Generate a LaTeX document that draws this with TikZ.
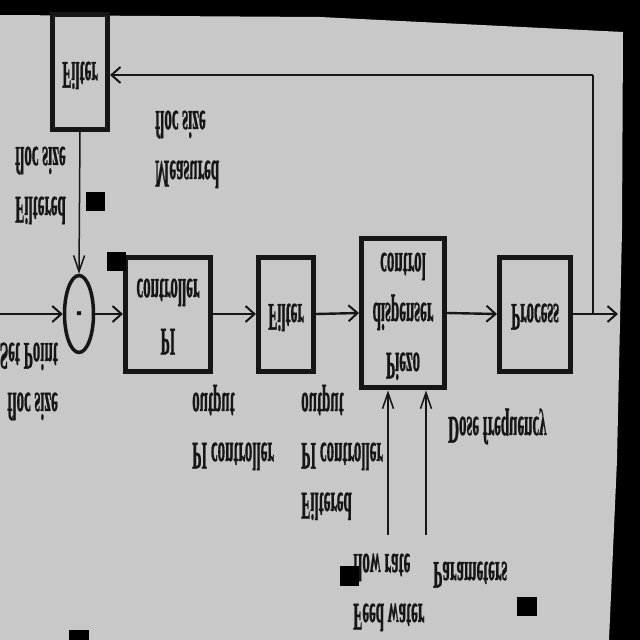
\documentclass[tikz,border=0pt]{standalone}
\usepackage{fontspec}
\setmainfont{Liberation Serif}[BoldFeatures={FakeBold=1.2}]
\usepackage{graphicx}
\usetikzlibrary{arrows.meta,shapes.geometric}
\definecolor{paper}{RGB}{200,200,200}
\definecolor{ink}{RGB}{22,22,22}
% text as the scan shows it: upside down and stretched
\newcommand{\flipped}[2][l]{\scalebox{1}[-2.6]{\begin{tabular}{@{}#1@{}}#2\end{tabular}}}
\tikzset{
  lbl/.style={inner sep=0pt, text=ink, font=\fontsize{15}{19.2}\selectfont\bfseries},
  block/.style={lbl, draw=ink, line width=5pt},
  hline/.style={draw=ink, line width=2.4pt},
  vline/.style={draw=ink, line width=1.5pt},
  harrow/.style={-{Straight Barb[length=9pt,width=16pt,line width=2pt]}},
  varrow/.style={-{Straight Barb[length=16pt,width=11pt,line width=1.5pt]}},
}
\begin{document}
\begin{tikzpicture}[x=1pt, y=-1pt]
\clip (0,0) rectangle (640,640);
% scanned sheet
\fill[black] (0,0) rectangle (640,640);
\fill[paper] (0,15) -- (320,17) -- (623,32) -- (622,230) -- (617,460) -- (609,640) -- (0,640) -- cycle;

% blocks
\node[block, minimum width=55pt, minimum height=115pt] (filtA) at (80,72) {\flipped{Filter}};
\node[lbl, ellipse, draw=ink, line width=3.5pt, minimum width=29pt, minimum height=77pt] (sum) at (79,314) {\flipped{-}};
\node[block, minimum width=85pt, minimum height=114pt] (pi) at (168,314) {\flipped[c]{PI\\controller}};
\node[block, minimum width=55pt, minimum height=114pt] (filtB) at (286,314) {\flipped{Filter}};
\node[block, minimum width=83pt, minimum height=147pt] (piezo) at (403,313) {\flipped[c]{Piezo\\dispenser\\control}};
\node[block, minimum width=71pt, minimum height=114pt] (proc) at (535,314) {\flipped{Process}};

% labels
\node[lbl, anchor=west] (filtered) at (15,182) {\flipped{Filtered\\floc size}};
\node[lbl, anchor=west] (measured) at (155,146) {\flipped{Measured\\floc size}};
\node[lbl, anchor=east] (setpt) at (58,378) {\flipped[r]{floc size\\Set Point}};
\node[lbl, anchor=west] (piout) at (192,428) {\flipped{PI controller\\output}};
\node[lbl, anchor=west] (filtout) at (301,453) {\flipped{Filtered\\PI controller\\output}};
\node[lbl, anchor=west] (dose) at (448,427) {\flipped{Dose frequency}};
\node[lbl, anchor=west] (feed) at (353,589) {\flipped{Feed water\\flow rate}};
\node[lbl, anchor=west] (params) at (433,572) {\flipped{Parameters}};

% connectors
\coordinate (in) at (0,314);
\coordinate (out) at (618,314);
\coordinate (tap) at (593,314);
\coordinate (corner) at (593,75);
\coordinate (fw) at (388,535);
\coordinate (dp) at (426,535);

\draw[hline, harrow] (in) -- (sum.west);
\draw[hline, harrow] (sum.east) -- (pi.west);
\draw[hline, harrow] (pi.east) -- (filtB.west);
\draw[hline, harrow] (filtB.east) -- (piezo.west);
\draw[hline, harrow] (piezo.east) -- (proc.west);
\draw[hline, harrow] (proc.east) -- (out);
\draw[vline] (tap) -- (corner);
\draw[hline, harrow] (corner) -- (corner -| filtA.east);
\draw[vline, varrow] (filtA.south) -- (sum.north);
\draw[vline, varrow] (fw) -- (fw |- piezo.south);
\draw[vline, varrow] (dp) -- (dp |- piezo.south);

% blots on the scan
\fill[black] (86,192) rectangle (105,211);
\fill[black] (107,252) rectangle (126,271);
\fill[black] (340,566) rectangle (359,586);
\fill[black] (517,597) rectangle (537,616);
\fill[black] (69,630) rectangle (89,640);
\end{tikzpicture}
\end{document}
